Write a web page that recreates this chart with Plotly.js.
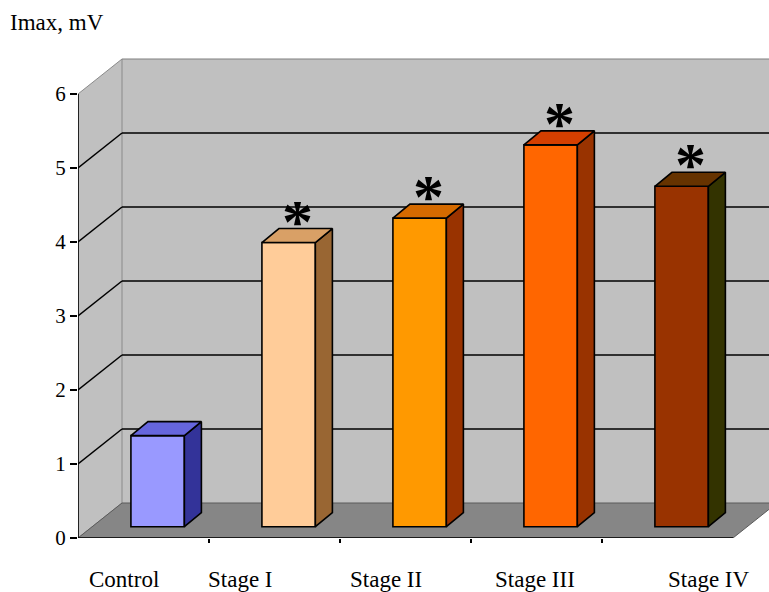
<!DOCTYPE html>
<html>
<head>
<meta charset="utf-8">
<script src="https://cdn.plot.ly/plotly-3.0.1.min.js"></script>
<style>
  html, body { margin: 0; padding: 0; background: #ffffff; }
  #chart { width: 769px; height: 592px; }
</style>
</head>
<body>
<div id="chart"></div>
<script>
// Peak amplitude by group
const categories = ['Control', 'Stage I', 'Stage II', 'Stage III', 'Stage IV'];
const imax = [1.23, 3.84, 4.17, 5.16, 4.60];
const significant = [false, true, true, true, true];
const yTicks = [0, 1, 2, 3, 4, 5, 6];

// Face colours of each column (front, top, side)
const frontColors = ['#9999ff', '#ffcc99', '#ff9900', '#ff6600', '#993300'];
const topColors   = ['#6666dd', '#d9a066', '#d46a00', '#d43f00', '#663300'];
const sideColors  = ['#333399', '#996633', '#993300', '#993300', '#333300'];

// Oblique projection of the 3D box (axis units)
const DEPTH_X = 0.336, DEPTH_Y = 0.473;      // full depth of the floor / walls
const BAR_X = 0.108, BAR_Y = 0.153;           // front face of the columns
const BAR_DX = 0.130, BAR_DY = 0.189;         // column depth
const BAR_W = 0.408;
const X0 = -0.5, X1 = categories.length - 0.5;
const YMAX = 6;

const serif = '"Liberation Serif", "Times New Roman", serif';
const xs = categories.map((c, i) => i + BAR_X);

const traces = [];
traces.push({
  type: 'bar',
  x: xs,
  y: imax,
  base: imax.map(() => BAR_Y),
  width: BAR_W,
  marker: { color: frontColors, line: { color: '#000000', width: 1.6 } },
  hoverinfo: 'skip'
});

imax.forEach((v, i) => {
  const xl = xs[i] - BAR_W / 2, xr = xs[i] + BAR_W / 2;
  const b = BAR_Y, t = BAR_Y + v;
  traces.push({
    type: 'scatter', mode: 'lines', fill: 'toself', hoverinfo: 'skip',
    x: [xr, xr + BAR_DX, xr + BAR_DX, xr, xr],
    y: [b, b + BAR_DY, t + BAR_DY, t, b],
    fillcolor: sideColors[i],
    line: { color: '#000000', width: 1.6 }
  });
  traces.push({
    type: 'scatter', mode: 'lines', fill: 'toself', hoverinfo: 'skip',
    x: [xl, xl + BAR_DX, xr + BAR_DX, xr, xl],
    y: [t, t + BAR_DY, t + BAR_DY, t, t],
    fillcolor: topColors[i],
    line: { color: '#000000', width: 1.6 }
  });
});

// Walls, floor and gridlines
const shapes = [];
shapes.push({ type: 'rect', layer: 'below', xref: 'x', yref: 'y',
  x0: X0 + DEPTH_X, x1: X1 + DEPTH_X, y0: DEPTH_Y, y1: YMAX + DEPTH_Y,
  fillcolor: '#c0c0c0', line: { width: 0 } });
shapes.push({ type: 'path', layer: 'below', xref: 'x', yref: 'y',
  path: `M ${X0} 0 L ${X0} ${YMAX} L ${X0 + DEPTH_X} ${YMAX + DEPTH_Y} L ${X0 + DEPTH_X} ${DEPTH_Y} Z`,
  fillcolor: '#c0c0c0', line: { color: '#8a8a8a', width: 1 } });
shapes.push({ type: 'path', layer: 'below', xref: 'x', yref: 'y',
  path: `M ${X0} 0 L ${X1} 0 L ${X1 + DEPTH_X} ${DEPTH_Y} L ${X0 + DEPTH_X} ${DEPTH_Y} Z`,
  fillcolor: '#868686', line: { color: '#5a5a5a', width: 1 } });
// back wall top edge
shapes.push({ type: 'line', layer: 'below', xref: 'x', yref: 'y',
  x0: X0 + DEPTH_X, x1: X1 + DEPTH_X, y0: YMAX + DEPTH_Y, y1: YMAX + DEPTH_Y,
  line: { color: '#808080', width: 1.2 } });
yTicks.forEach(k => {
  if (k === 0 || k === YMAX) return;
  shapes.push({ type: 'line', layer: 'below', xref: 'x', yref: 'y',
    x0: X0 + DEPTH_X, x1: X1 + DEPTH_X, y0: k + DEPTH_Y, y1: k + DEPTH_Y,
    line: { color: '#000000', width: 1.5 } });
  shapes.push({ type: 'line', layer: 'below', xref: 'x', yref: 'y',
    x0: X0, x1: X0 + DEPTH_X, y0: k, y1: k + DEPTH_Y,
    line: { color: '#000000', width: 1.5 } });
});
// front axis lines
shapes.push({ type: 'line', xref: 'x', yref: 'y', x0: X0, x1: X0, y0: 0, y1: YMAX,
  line: { color: '#000000', width: 1.6 } });
shapes.push({ type: 'line', xref: 'x', yref: 'y', x0: X0, x1: X1, y0: 0, y1: 0,
  line: { color: '#000000', width: 1.6 } });

// Category labels and significance marks
const labelShift = [-0.15, -0.26, -0.15, -0.01, 0.32];
const annotations = categories.map((c, i) => ({
  text: c, xref: 'x', yref: 'y', x: i + labelShift[i], y: 0,
  yshift: -41, showarrow: false, xanchor: 'center', yanchor: 'middle',
  font: { family: serif, size: 23, color: '#000000' }
}));
imax.forEach((v, i) => {
  if (!significant[i]) return;
  annotations.push({
    text: '<b>*</b>', xref: 'x', yref: 'y',
    x: xs[i] + BAR_DX / 2, y: BAR_Y + v + BAR_DY / 2,
    yshift: 15, showarrow: false, xanchor: 'center', yanchor: 'middle',
    font: { family: serif, size: 62, color: '#000000' }
  });
});

const layout = {
  width: 769, height: 592,
  margin: { l: 78, r: 0, t: 57, b: 54 },
  paper_bgcolor: '#ffffff', plot_bgcolor: 'rgba(0,0,0,0)',
  showlegend: false,
  title: { text: 'Imax, mV', x: 10 / 769, xanchor: 'left', xref: 'container',
    y: 1 - 22 / 592, yanchor: 'middle', yref: 'container',
    font: { family: serif, size: 23, color: '#000000' } },
  xaxis: { range: [X0, 4.775], showgrid: false, zeroline: false, showline: false,
    tickvals: [0.5, 1.5, 2.5, 3.5], ticks: 'outside', ticklen: 4, tickwidth: 1.5,
    tickcolor: '#000000', showticklabels: false, fixedrange: true },
  yaxis: { range: [0, 6.5], showgrid: false, zeroline: false, showline: false,
    tickvals: yTicks, ticks: 'outside', ticklen: 7, tickwidth: 1.5, tickcolor: '#000000',
    tickfont: { family: serif, size: 21, color: '#000000' }, fixedrange: true },
  shapes: shapes,
  annotations: annotations,
  bargap: 0
};

Plotly.newPlot('chart', traces, layout, { displayModeBar: false, staticPlot: true });
</script>
</body>
</html>
